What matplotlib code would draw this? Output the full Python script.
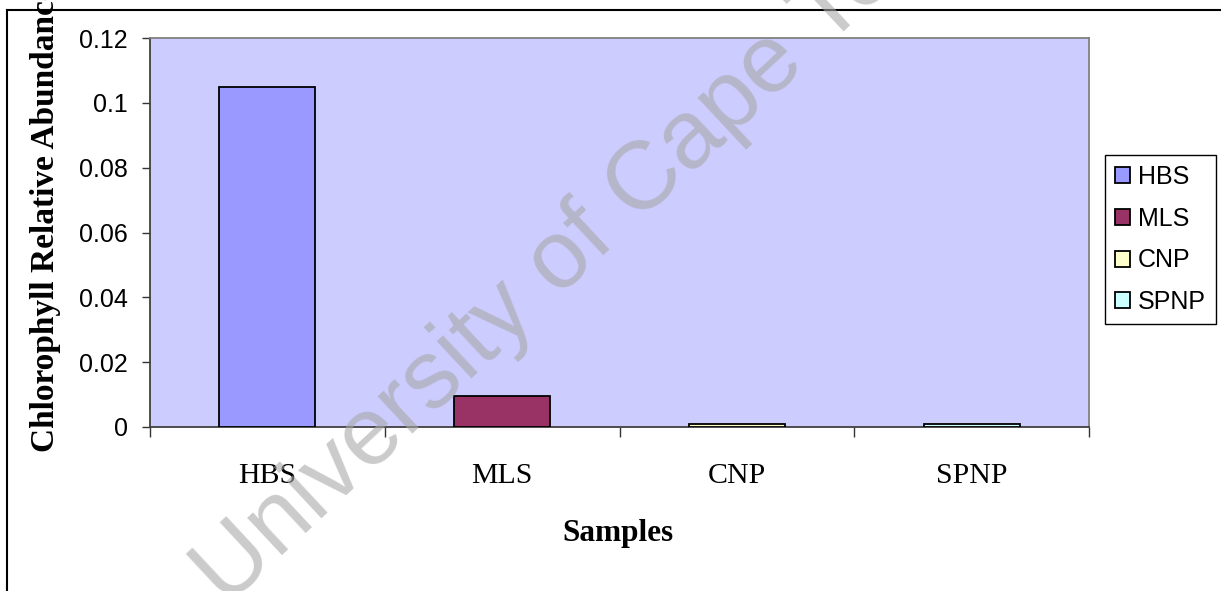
import numpy as np
import matplotlib
matplotlib.use('Agg')
import matplotlib.pyplot as plt
from matplotlib.lines import Line2D

samples = ['HBS', 'MLS', 'CNP', 'SPNP']
abundance = [0.105, 0.0095, 0.0008, 0.0008]
bar_colors = ['#9999FF', '#993366', '#FFFFCC', '#CCFFFF']
ytick_vals = [0, 0.02, 0.04, 0.06, 0.08, 0.1, 0.12]
ytick_labels = ['0', '0.02', '0.04', '0.06', '0.08', '0.1', '0.12']

W, H = 1221, 591
fig = plt.figure(figsize=(W / 100, H / 100), dpi=100)
fig.patch.set_facecolor('white')

# plot area in pixel terms
left, right, top, bottom = 150, 1089, 38, 427
ax = fig.add_axes([left / W, 1 - bottom / H, (right - left) / W, (bottom - top) / H])
ax.set_facecolor('#CCCCFF')

x = np.arange(len(samples))
bars = ax.bar(x, abundance, width=0.41, color=bar_colors,
              edgecolor='black', linewidth=1.3, zorder=3)

ax.set_xlim(-0.5, len(samples) - 0.5)
ax.set_ylim(0, 0.12)

ax.set_yticks(ytick_vals)
ax.set_yticklabels(ytick_labels, fontsize=18, family='Liberation Sans')
ax.tick_params(axis='y', direction='out', length=6, width=1, pad=10, color='#333333')

# category labels at centres, tick marks between categories
ax.set_xticks(x)
ax.set_xticklabels(samples, fontsize=21.5, family='Liberation Serif')
ax.tick_params(axis='x', which='major', length=0, pad=26)
ax.set_xticks(np.arange(len(samples) + 1) - 0.5, minor=True)
ax.tick_params(axis='x', which='minor', direction='out', length=7.5, width=1, color='#333333')

for side in ['top', 'right']:
    ax.spines[side].set_color('#808080')
    ax.spines[side].set_linewidth(1.3)
for side in ['left', 'bottom']:
    ax.spines[side].set_color('#404040')
    ax.spines[side].set_linewidth(1.3)

fig.text(46 / W, 1 - 452 / H, 'Chlorophyll Relative Abundance', rotation=90,
         ha='center', va='bottom', fontsize=24, fontweight='bold',
         family='Liberation Serif')
fig.text(618 / W, 1 - 533 / H, 'Samples', ha='center', va='center',
         fontsize=22.5, fontweight='bold', family='Liberation Serif')

leg = fig.legend(bars, samples, loc='upper left',
                 bbox_to_anchor=(1105 / W, 1 - 155 / H), bbox_transform=fig.transFigure,
                 prop={'family': 'Liberation Sans', 'size': 18},
                 fancybox=False, framealpha=1, edgecolor='black',
                 handlelength=0.6, handleheight=0.6, handletextpad=0.3,
                 labelspacing=0.71, borderpad=0.4, borderaxespad=0)
leg.get_frame().set_linewidth(1.0)

# outer chart border (top and left edges)
fig.add_artist(Line2D([7 / W, 1], [1 - 10 / H, 1 - 10 / H], transform=fig.transFigure,
                      color='black', lw=1.5))
fig.add_artist(Line2D([7.5 / W, 7.5 / W], [0, 1 - 10 / H], transform=fig.transFigure,
                      color='black', lw=1.5))

# diagonal watermark
fig.text(592 / W, 1 - 232 / H, 'University of Cape Town', rotation=43,
         rotation_mode='anchor', ha='center', va='center', fontsize=70,
         color='#A8A8A8', alpha=0.6, family='Liberation Sans', zorder=10)

fig.savefig('out.png', dpi=100)
